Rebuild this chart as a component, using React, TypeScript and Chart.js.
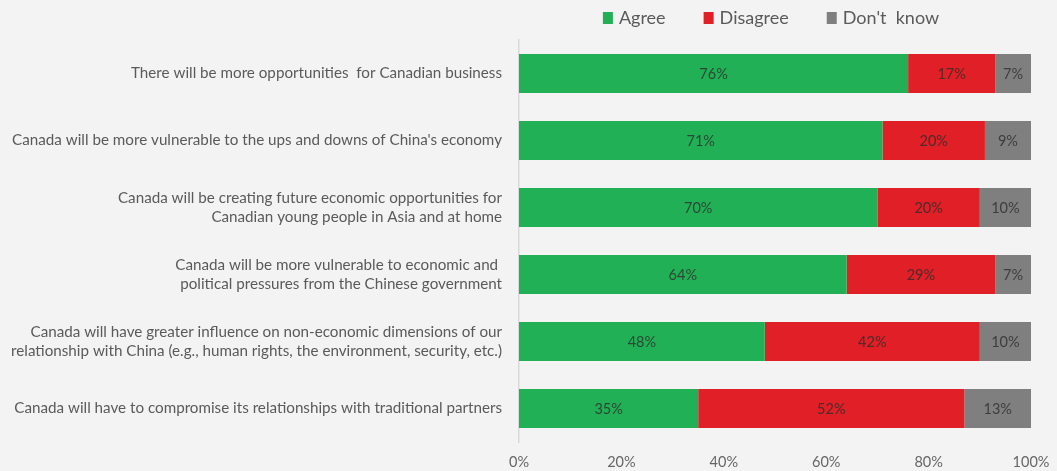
import React, { useEffect, useRef } from "react";
import { Chart, registerables } from "chart.js";

Chart.register(...registerables);

const categories: (string | string[])[] = [
  "There will be more opportunities  for Canadian business",
  "Canada will be more vulnerable to the ups and downs of China's economy",
  ["Canada will be creating future economic opportunities for", "Canadian young people in Asia and at home"],
  ["Canada will be more vulnerable to economic and ", "political pressures from the Chinese government"],
  ["Canada will have greater influence on non-economic dimensions of our", "relationship with China (e.g., human rights, the environment, security, etc.)"],
  "Canada will have to compromise its relationships with traditional partners",
];
const agree = [76, 71, 70, 64, 48, 35];
const disagree = [17, 20, 20, 29, 42, 52];
const dontKnow = [7, 9, 10, 7, 10, 13];
const seriesNames = ["Agree", "Disagree", "Don't  know"];
const xTicks = [0, 20, 40, 60, 80, 100];

const FONT = "Lato, 'Noto Sans', sans-serif";
const TEXT = "#5a5a5a";

const legendPlugin = {
  id: "customLegend",
  afterDraw(chart: any) {
    const ctx = chart.ctx;
    const ds = chart.data.datasets;
    ctx.save();
    ctx.font = `18px ${FONT}`;
    ctx.textBaseline = "middle";
    const box = 10;
    const gapText = 6;
    const gapItem = 38;
    const widths = ds.map((d: any) => box + gapText + ctx.measureText(d.label).width);
    const total = widths.reduce((a: number, b: number) => a + b, 0) + gapItem * (ds.length - 1);
    let x = 771 - total / 2;
    const y = 18;
    ds.forEach((d: any, i: number) => {
      ctx.fillStyle = d.backgroundColor;
      ctx.fillRect(x, y - 6, box, 12);
      ctx.fillStyle = TEXT;
      ctx.textAlign = "left";
      ctx.fillText(d.label, x + box + gapText, y);
      x += widths[i] + gapItem;
    });
    ctx.restore();
  },
};

const dataLabelPlugin = {
  id: "barValues",
  afterDatasetsDraw(chart: any) {
    const ctx = chart.ctx;
    ctx.save();
    ctx.font = `14.5px ${FONT}`;
    ctx.fillStyle = "rgba(45,45,45,0.8)";
    ctx.textAlign = "center";
    ctx.textBaseline = "middle";
    chart.data.datasets.forEach((d: any, di: number) => {
      const meta = chart.getDatasetMeta(di);
      meta.data.forEach((bar: any, i: number) => {
        const v = d.data[i];
        const cx = (bar.x + bar.base) / 2;
        ctx.fillText(`${v}%`, cx, bar.y + 1);
      });
    });
    ctx.restore();
  },
};

export default function App() {
  const ref = useRef<HTMLCanvasElement>(null);
  useEffect(() => {
    document.body.style.margin = "0";
    const chart = new Chart(ref.current!, {
      type: "bar",
      data: {
        labels: categories,
        datasets: [
          { label: seriesNames[0], data: agree, backgroundColor: "#21B055" },
          { label: seriesNames[1], data: disagree, backgroundColor: "#E01F26" },
          { label: seriesNames[2], data: dontKnow, backgroundColor: "#7F7F7F" },
        ],
      },
      options: {
        indexAxis: "y",
        responsive: false,
        animation: false,
        maintainAspectRatio: false,
        layout: { padding: { top: 40, right: 26, left: 0, bottom: 0 } },
        datasets: { bar: { categoryPercentage: 1, barPercentage: 0.58 } },
        plugins: { legend: { display: false }, tooltip: { enabled: false } },
        scales: {
          x: {
            stacked: true,
            min: 0,
            max: 100,
            afterBuildTicks: (s: any) => {
              s.ticks = xTicks.map((v) => ({ value: v }));
            },
            afterFit: (s: any) => {
              s.height = 29;
              s.paddingLeft = 0;
              s.paddingRight = 0;
            },
            grid: { display: false, drawTicks: false },
            border: { display: false },
            ticks: {
              padding: 12,
              color: "#666",
              font: { family: FONT, size: 14.5 },
              callback: (v: any) => `${v}%`,
              maxRotation: 0,
            },
          },
          y: {
            stacked: true,
            afterFit: (s: any) => {
              s.width = 519;
            },
            grid: { display: true, color: "transparent", drawTicks: false },
            border: { display: true, color: "#d9d9d9", width: 1.5 },
            ticks: {
              padding: 17,
              color: TEXT,
              font: { family: FONT, size: 15.2, lineHeight: 1.3 },
            },
          },
        },
      },
      plugins: [legendPlugin, dataLabelPlugin],
    } as any);
    return () => chart.destroy();
  }, []);
  return (
    <div style={{ width: 1057, height: 471, background: "#f3f3f3", position: "relative" }}>
      <canvas ref={ref} width={1057} height={471} style={{ display: "block" }} />
    </div>
  );
}
